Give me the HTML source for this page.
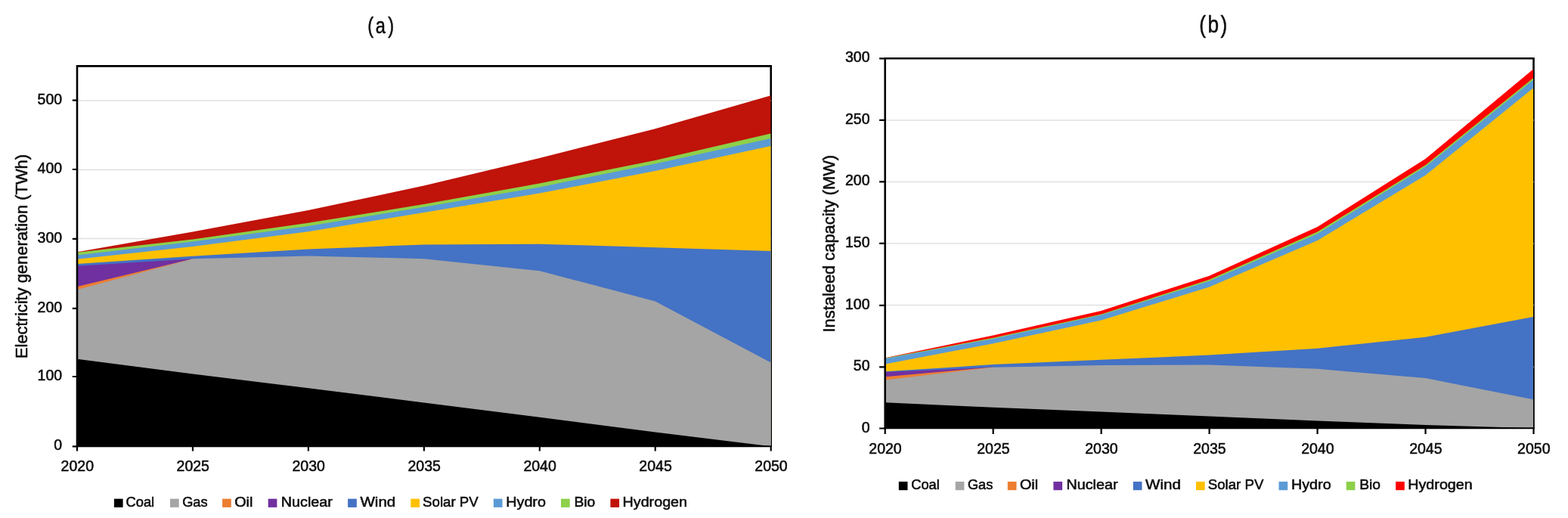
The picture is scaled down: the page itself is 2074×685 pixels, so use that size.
<!DOCTYPE html>
<html lang="en">
<head>
<meta charset="utf-8">
<title>Electricity generation and installed capacity</title>
<style>
html,body{margin:0;padding:0;background:#fff;}
body{width:2074px;height:685px;overflow:hidden;}
svg{display:block;filter:blur(0.45px);}
svg text{font-family:"Liberation Sans", sans-serif;fill:#0d0d0d;stroke:#0d0d0d;stroke-width:0.55px;stroke-linejoin:round;}
</style>
</head>
<body>
<svg width="2074" height="685" viewBox="0 0 2074 685">
<rect width="2074" height="685" fill="#fff"/>
<g id="chart-a">
<path d="M102 87.4H1019.7V590.3" fill="none" stroke="#000" stroke-width="2.6" stroke-linejoin="miter"/>
<line x1="102" x2="1019.7" y1="498.4" y2="498.4" stroke="#E0E0E0" stroke-width="1.5"/>
<line x1="102" x2="1019.7" y1="407.6" y2="407.6" stroke="#E0E0E0" stroke-width="1.5"/>
<line x1="102" x2="1019.7" y1="315.6" y2="315.6" stroke="#E0E0E0" stroke-width="1.5"/>
<line x1="102" x2="1019.7" y1="224.4" y2="224.4" stroke="#E0E0E0" stroke-width="1.5"/>
<line x1="102" x2="1019.7" y1="133" y2="133" stroke="#E0E0E0" stroke-width="1.5"/>
<clipPath id="clip-a"><rect x="102" y="87.4" width="917.5" height="504.9"/></clipPath>
<g clip-path="url(#clip-a)">
<polygon points="102,590.3 102,333.3 254.95,306.6 407.9,278 560.85,245.6 713.8,209 866.75,170.2 1019.7,126.35 1019.7,590.3" fill="#C0130A"/>
<polygon points="102,590.3 102,333.8 254.95,316.4 407.9,294.8 560.85,270.1 713.8,242.5 866.75,211.9 1019.7,176.4 1019.7,590.3" fill="#8DD04A"/>
<polygon points="102,590.3 102,337.4 254.95,319.6 407.9,299 560.85,273.8 713.8,247.4 866.75,216.5 1019.7,183 1019.7,590.3" fill="#5B9BD5"/>
<polygon points="102,590.3 102,342.7 254.95,325.9 407.9,306.2 560.85,281 713.8,255.6 866.75,226.1 1019.7,192.9 1019.7,590.3" fill="#FFC000"/>
<polygon points="102,590.3 102,348.9 254.95,338.8 407.9,329.6 560.85,323.4 713.8,322.7 866.75,327.2 1019.7,332 1019.7,590.3" fill="#4472C4"/>
<polygon points="102,590.3 102,351.7 254.95,342.2 254.95,590.3" fill="#7030A0"/>
<polygon points="102,590.3 102,379 254.95,342.2 254.95,590.3" fill="#ED7D31"/>
<polygon points="102,590.3 102,383.1 254.95,342.3 407.9,338.4 560.85,342.2 713.8,358.2 866.75,398.4 1019.7,479.6 1019.7,590.3" fill="#A5A5A5"/>
<polygon points="102,590.3 102,474.7 254.95,494.5 407.9,513.3 560.85,532.5 713.8,551.7 866.75,571.5 1019.7,590.3 1019.7,590.3" fill="#000000"/>
</g>
<path d="M102 86.1V591.35" fill="none" stroke="#000" stroke-width="2.6"/>
<path d="M100.7 590.3H1021" fill="none" stroke="#000" stroke-width="2.1"/>
<path d="M95.8 590.3H102M95.8 498H102M95.8 407.8H102M95.8 315.9H102M95.8 224H102M95.8 132.7H102M102 590.3V596.5M254.95 590.3V596.5M407.9 590.3V596.5M560.85 590.3V596.5M713.8 590.3V596.5M866.75 590.3V596.5M1019.7 590.3V596.5" fill="none" stroke="#000" stroke-width="2.2"/>
<text x="82.1" y="595.3" text-anchor="end" font-size="19.5">0</text>
<text x="82.1" y="503" text-anchor="end" font-size="19.5">100</text>
<text x="82.1" y="412.8" text-anchor="end" font-size="19.5">200</text>
<text x="82.1" y="320.9" text-anchor="end" font-size="19.5">300</text>
<text x="82.1" y="229" text-anchor="end" font-size="19.5">400</text>
<text x="82.1" y="137.7" text-anchor="end" font-size="19.5">500</text>
<text x="102.3" y="623" text-anchor="middle" font-size="19.5">2020</text>
<text x="255.25" y="623" text-anchor="middle" font-size="19.5">2025</text>
<text x="408.2" y="623" text-anchor="middle" font-size="19.5">2030</text>
<text x="561.15" y="623" text-anchor="middle" font-size="19.5">2035</text>
<text x="714.1" y="623" text-anchor="middle" font-size="19.5">2040</text>
<text x="867.05" y="623" text-anchor="middle" font-size="19.5">2045</text>
<text x="1020" y="623" text-anchor="middle" font-size="19.5">2050</text>
<text transform="translate(0 44.3) scale(0.78 1)" x="623.56 636.73 657.92" y="0" font-size="30.2" stroke-width="1">(a)</text>
<text transform="translate(35.9 339) rotate(-90)" text-anchor="middle" font-size="22.0" textLength="270.2" lengthAdjust="spacingAndGlyphs">Electricity generation (TWh)</text>
<rect x="150.9" y="659.6" width="11.700000000000001" height="11.3" fill="#000000"/>
<text x="166.5" y="670.1" font-size="18.0" textLength="37.7" lengthAdjust="spacingAndGlyphs">Coal</text>
<rect x="225" y="659.6" width="11.700000000000001" height="11.3" fill="#A5A5A5"/>
<text x="241.2" y="670.1" font-size="18.0" textLength="33.4" lengthAdjust="spacingAndGlyphs">Gas</text>
<rect x="294.1" y="659.6" width="11.700000000000001" height="11.3" fill="#ED7D31"/>
<text x="310.2" y="670.1" font-size="18.0" textLength="24.2" lengthAdjust="spacingAndGlyphs">Oil</text>
<rect x="354.7" y="659.6" width="11.700000000000001" height="11.3" fill="#7030A0"/>
<text x="371.8" y="670.1" font-size="18.0" textLength="68" lengthAdjust="spacingAndGlyphs">Nuclear</text>
<rect x="460.1" y="659.6" width="11.700000000000001" height="11.3" fill="#4472C4"/>
<text x="476.4" y="670.1" font-size="18.0" textLength="46.9" lengthAdjust="spacingAndGlyphs">Wind</text>
<rect x="543.3" y="659.6" width="11.700000000000001" height="11.3" fill="#FFC000"/>
<text x="559.1" y="670.1" font-size="18.0" textLength="73.6" lengthAdjust="spacingAndGlyphs">Solar PV</text>
<rect x="652.8" y="659.6" width="11.700000000000001" height="11.3" fill="#5B9BD5"/>
<text x="669.3" y="670.1" font-size="18.0" textLength="52.6" lengthAdjust="spacingAndGlyphs">Hydro</text>
<rect x="742" y="659.6" width="11.700000000000001" height="11.3" fill="#8DD04A"/>
<text x="759.5" y="670.1" font-size="18.0" textLength="27.8" lengthAdjust="spacingAndGlyphs">Bio</text>
<rect x="807.4" y="659.6" width="11.700000000000001" height="11.3" fill="#C0130A"/>
<text x="823.6" y="670.1" font-size="18.0" textLength="85.4" lengthAdjust="spacingAndGlyphs">Hydrogen</text>
</g>
<g id="chart-b">
<path d="M1170.7 77.3H2028.5V566.3" fill="none" stroke="#000" stroke-width="2.6" stroke-linejoin="miter"/>
<line x1="1170.7" x2="2028.5" y1="485.2" y2="485.2" stroke="#E0E0E0" stroke-width="1.5"/>
<line x1="1170.7" x2="2028.5" y1="403.6" y2="403.6" stroke="#E0E0E0" stroke-width="1.5"/>
<line x1="1170.7" x2="2028.5" y1="321.9" y2="321.9" stroke="#E0E0E0" stroke-width="1.5"/>
<line x1="1170.7" x2="2028.5" y1="240.4" y2="240.4" stroke="#E0E0E0" stroke-width="1.5"/>
<line x1="1170.7" x2="2028.5" y1="158.9" y2="158.9" stroke="#E0E0E0" stroke-width="1.5"/>
<clipPath id="clip-b"><rect x="1170.7" y="77.3" width="857.25" height="491"/></clipPath>
<g clip-path="url(#clip-b)">
<polygon points="1170.7,566.3 1170.7,473.3 1313.67,443.5 1456.63,410.9 1599.6,364.7 1742.57,300 1885.53,210.1 2028.5,91.2 2028.5,566.3" fill="#FF0000"/>
<polygon points="1170.7,566.3 1170.7,473.4 1313.67,446.8 1456.63,415.4 1599.6,369.8 1742.57,306.5 1885.53,218.3 2028.5,102.8 2028.5,566.3" fill="#8DD04A"/>
<polygon points="1170.7,566.3 1170.7,474.2 1313.67,447.9 1456.63,416.4 1599.6,371.8 1742.57,309.3 1885.53,220.4 2028.5,105.3 2028.5,566.3" fill="#5B9BD5"/>
<polygon points="1170.7,566.3 1170.7,481.4 1313.67,454.3 1456.63,423.5 1599.6,379.5 1742.57,318 1885.53,231.7 2028.5,116 2028.5,566.3" fill="#FFC000"/>
<polygon points="1170.7,566.3 1170.7,491.3 1313.67,482.1 1456.63,475.8 1599.6,469.6 1742.57,460.7 1885.53,445.7 2028.5,419 2028.5,566.3" fill="#4472C4"/>
<polygon points="1170.7,566.3 1170.7,492 1313.67,485.6 1313.67,566.3" fill="#7030A0"/>
<polygon points="1170.7,566.3 1170.7,498.2 1313.67,485.6 1313.67,566.3" fill="#ED7D31"/>
<polygon points="1170.7,566.3 1170.7,502.4 1313.67,485.7 1456.63,482.9 1599.6,482.4 1742.57,487.8 1885.53,500.1 2028.5,528.3 2028.5,566.3" fill="#A5A5A5"/>
<polygon points="1170.7,566.3 1170.7,532.2 1313.67,538.8 1456.63,544.4 1599.6,550.6 1742.57,556.6 1885.53,561.9 2028.5,566.3 2028.5,566.3" fill="#000000"/>
</g>
<path d="M1170.7 76V567.35" fill="none" stroke="#000" stroke-width="2.6"/>
<path d="M1169.4 566.3H2029.8" fill="none" stroke="#000" stroke-width="2.1"/>
<path d="M1163.1 566.5H1170.7M1163.1 485.4H1170.7M1163.1 403.8H1170.7M1163.1 321.9H1170.7M1163.1 240.4H1170.7M1163.1 158.9H1170.7M1163.1 77.3H1170.7M1170.7 566.3V573.9M1313.67 566.3V573.9M1456.63 566.3V573.9M1599.6 566.3V573.9M1742.57 566.3V573.9M1885.53 566.3V573.9M2028.5 566.3V573.9" fill="none" stroke="#000" stroke-width="2.2"/>
<text x="1150.5" y="571.5" text-anchor="end" font-size="19.5">0</text>
<text x="1150.5" y="490.4" text-anchor="end" font-size="19.5">50</text>
<text x="1150.5" y="408.8" text-anchor="end" font-size="19.5">100</text>
<text x="1150.5" y="326.9" text-anchor="end" font-size="19.5">150</text>
<text x="1150.5" y="245.4" text-anchor="end" font-size="19.5">200</text>
<text x="1150.5" y="163.9" text-anchor="end" font-size="19.5">250</text>
<text x="1150.5" y="82.3" text-anchor="end" font-size="19.5">300</text>
<text x="1171" y="600.3" text-anchor="middle" font-size="19.5">2020</text>
<text x="1313.97" y="600.3" text-anchor="middle" font-size="19.5">2025</text>
<text x="1456.93" y="600.3" text-anchor="middle" font-size="19.5">2030</text>
<text x="1599.9" y="600.3" text-anchor="middle" font-size="19.5">2035</text>
<text x="1742.87" y="600.3" text-anchor="middle" font-size="19.5">2040</text>
<text x="1885.83" y="600.3" text-anchor="middle" font-size="19.5">2045</text>
<text x="2028.8" y="600.3" text-anchor="middle" font-size="19.5">2050</text>
<text transform="translate(0 43.2) scale(0.82 1)" x="1934.55 1948.18 1968.82" y="0" font-size="32.0" stroke-width="1">(b)</text>
<text transform="translate(1104 322.2) rotate(-90)" text-anchor="middle" font-size="22.0" textLength="234.5" lengthAdjust="spacingAndGlyphs">Instaleed capacity (MW)</text>
<rect x="1188.8" y="636.9" width="11.700000000000001" height="11.3" fill="#000000"/>
<text x="1205.2" y="647.4" font-size="18.0" textLength="37.7" lengthAdjust="spacingAndGlyphs">Coal</text>
<rect x="1263.7" y="636.9" width="11.700000000000001" height="11.3" fill="#A5A5A5"/>
<text x="1279.9" y="647.4" font-size="18.0" textLength="33.4" lengthAdjust="spacingAndGlyphs">Gas</text>
<rect x="1332.8" y="636.9" width="11.700000000000001" height="11.3" fill="#ED7D31"/>
<text x="1348.9" y="647.4" font-size="18.0" textLength="24.2" lengthAdjust="spacingAndGlyphs">Oil</text>
<rect x="1393.4" y="636.9" width="11.700000000000001" height="11.3" fill="#7030A0"/>
<text x="1410.5" y="647.4" font-size="18.0" textLength="68" lengthAdjust="spacingAndGlyphs">Nuclear</text>
<rect x="1498.8" y="636.9" width="11.700000000000001" height="11.3" fill="#4472C4"/>
<text x="1515.1" y="647.4" font-size="18.0" textLength="46.9" lengthAdjust="spacingAndGlyphs">Wind</text>
<rect x="1582" y="636.9" width="11.700000000000001" height="11.3" fill="#FFC000"/>
<text x="1597.8" y="647.4" font-size="18.0" textLength="73.6" lengthAdjust="spacingAndGlyphs">Solar PV</text>
<rect x="1691.5" y="636.9" width="11.700000000000001" height="11.3" fill="#5B9BD5"/>
<text x="1708" y="647.4" font-size="18.0" textLength="52.6" lengthAdjust="spacingAndGlyphs">Hydro</text>
<rect x="1780.7" y="636.9" width="11.700000000000001" height="11.3" fill="#8DD04A"/>
<text x="1798.2" y="647.4" font-size="18.0" textLength="27.8" lengthAdjust="spacingAndGlyphs">Bio</text>
<rect x="1846.1" y="636.9" width="11.700000000000001" height="11.3" fill="#FF0000"/>
<text x="1862.3" y="647.4" font-size="18.0" textLength="85.4" lengthAdjust="spacingAndGlyphs">Hydrogen</text>
</g>
</svg>
</body>
</html>
